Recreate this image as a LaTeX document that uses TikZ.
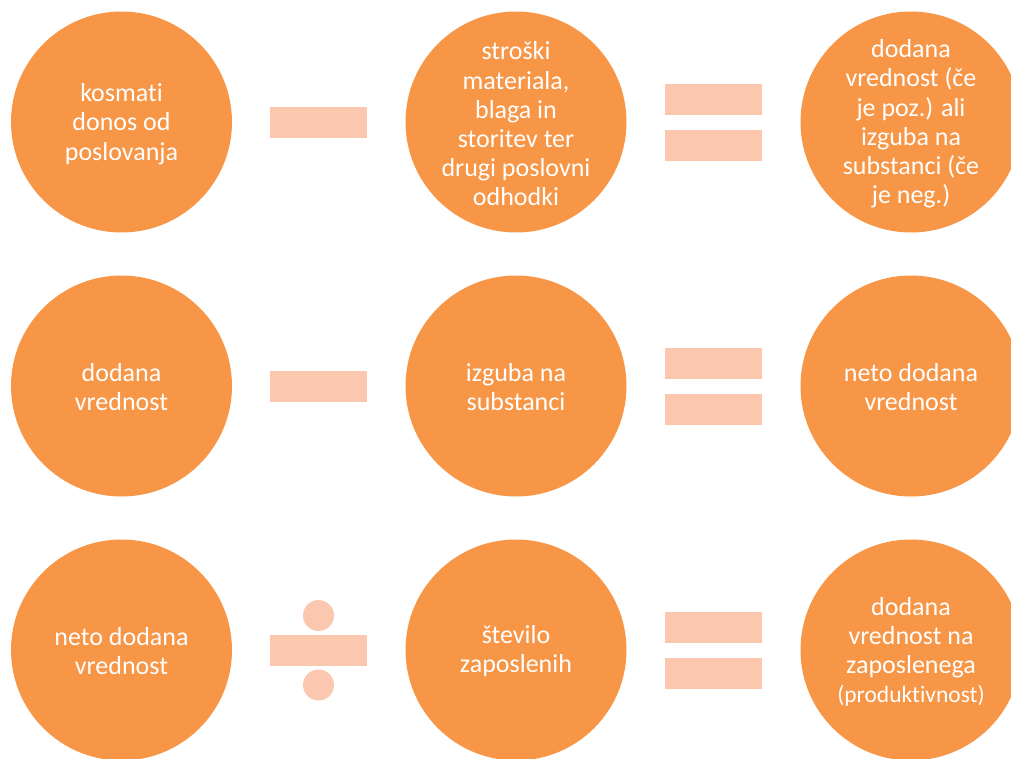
\documentclass[tikz,border=0pt]{standalone}
\usepackage{fontspec}
\setmainfont{Carlito}[Ligatures=NoCommon]
\definecolor{orng}{HTML}{F79646}
\definecolor{peach}{HTML}{FBC8AF}
\begin{document}
\begin{tikzpicture}[x=1pt,y=-1pt,
  bubble/.style={circle,fill=orng,draw=none,minimum size=221pt,inner sep=0pt,
    text=white,align=center,font=\fontsize{26}{29.2}\selectfont},
  barbox/.style={rectangle,fill=peach,draw=none,minimum width=97pt,minimum height=31pt,inner sep=0pt},
  dotbox/.style={circle,fill=peach,draw=none,minimum size=31pt,inner sep=0pt},
  lbl/.style={text=white,align=center,font=\fontsize{26}{29.2}\selectfont,inner sep=0pt}]
\useasboundingbox (0,0) rectangle (1011,758);
% row 1
\node[bubble] (a1) at (121.5,122) {};
\node[lbl] (ta1) at ([yshift=-2pt]a1.center) {kosmati\\donos od\\poslovanja};
\node[bubble] (a2) at (516,122) {};
\node[lbl] (ta2) at ([yshift=-2pt]a2.center) {stroški\\materiala,\\blaga in\\storitev ter\\drugi poslovni\\odhodki};
\node[bubble] (a3) at (911,122) {};
\node[lbl] (ta3) at ([yshift=-2pt]a3.center) {dodana\\vrednost (če\\je poz.) ali\\izguba na\\substanci (če\\je neg.)};
\node[barbox] (am) at (318.5,122.5) {};
\node[barbox] (ae1) at (713.5,99.5) {};
\node[barbox] (ae2) at (713.5,145.5) {};
% row 2
\node[bubble] (b1) at (121.5,386) {};
\node[lbl] (tb1) at ([yshift=-1pt]b1.center) {dodana\\vrednost};
\node[bubble] (b2) at (516,386) {};
\node[lbl] (tb2) at ([yshift=-1pt]b2.center) {izguba na\\substanci};
\node[bubble] (b3) at (911,386) {};
\node[lbl] (tb3) at ([yshift=-1pt]b3.center) {neto dodana\\vrednost};
\node[barbox] (bm) at (318.5,386.5) {};
\node[barbox] (be1) at (713.5,363.5) {};
\node[barbox] (be2) at (713.5,409.5) {};
% row 3
\node[bubble] (c1) at (121.5,650) {};
\node[lbl] (tc1) at ([yshift=-1pt]c1.center) {neto dodana\\vrednost};
\node[bubble] (c2) at (516,650) {};
\node[lbl] (tc2) at ([yshift=-1pt]c2.center) {število\\zaposlenih};
\node[bubble] (c3) at (911,650) {};
\node[lbl] (tc3) at ([yshift=-2pt]c3.center) {dodana\\vrednost na\\zaposlenega\\{\fontsize{23.5}{29.2}\selectfont(produktivnost)}};
\node[barbox] (cm) at (318.5,650.5) {};
\node[dotbox] (cd1) at (318.5,615.5) {};
\node[dotbox] (cd2) at (318.5,685) {};
\node[barbox] (ce1) at (713.5,627.5) {};
\node[barbox] (ce2) at (713.5,673.5) {};
\end{tikzpicture}
\end{document}
